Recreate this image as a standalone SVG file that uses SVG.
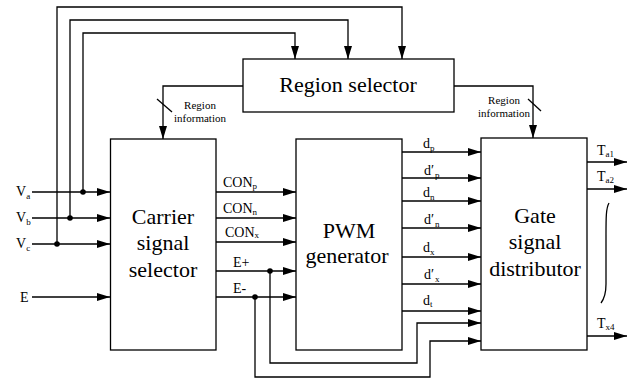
<svg xmlns="http://www.w3.org/2000/svg" width="643" height="383" viewBox="0 0 643 383" font-family="Liberation Serif, Times New Roman, DejaVu Serif, serif">
<style>
.box{fill:#fff;stroke:#000;stroke-width:1.3}
.ln{fill:none;stroke:#000;stroke-width:1.3}
.arr{marker-end:url(#ah)}
.big{font-size:22px;text-anchor:middle}
.lbl{font-size:14px}
.sm{font-size:11px;text-anchor:middle}
.sub{font-size:9px}
</style>
<defs>
<marker id="ah" markerUnits="userSpaceOnUse" markerWidth="14" markerHeight="9" refX="13" refY="4" orient="auto">
<path d="M0,0 L13,4 L0,8 z" fill="#000"/>
</marker>
</defs>
<rect width="643" height="383" fill="#fff"/>
<g id="connectors">
<path class="ln arr" d="M83,192 V33 H295 V59"/>
<path class="ln arr" d="M70,218 V20 H348 V59"/>
<path class="ln arr" d="M57,244 V7 H402 V59"/>
<path class="ln arr" d="M32,192 H110"/>
<path class="ln arr" d="M32,218 H110"/>
<path class="ln arr" d="M32,244 H110"/>
<path class="ln arr" d="M32,297 H110"/>
<circle cx="83" cy="192" r="2.8"/>
<circle cx="70" cy="218" r="2.8"/>
<circle cx="57" cy="244" r="2.8"/>
<path class="ln arr" d="M243,86 H163 V139"/>
<path class="ln" d="M157,99 L172,112"/>
<path class="ln arr" d="M454,86 H533 V138"/>
<path class="ln" d="M528,99 L541,111"/>
<path class="ln arr" d="M216,192 H296"/>
<path class="ln arr" d="M216,218 H296"/>
<path class="ln arr" d="M216,242 H296"/>
<path class="ln arr" d="M216,271 H296"/>
<path class="ln arr" d="M216,297 H296"/>
<circle cx="270" cy="271" r="2.8"/>
<circle cx="255" cy="297" r="2.8"/>
<path class="ln arr" d="M270,271 V363 H417 V323 H481"/>
<path class="ln arr" d="M255,297 V377 H430 V341 H481"/>
<path class="ln arr" d="M402,152 H481"/>
<path class="ln arr" d="M402,178 H481"/>
<path class="ln arr" d="M402,201 H481"/>
<path class="ln arr" d="M402,228 H481"/>
<path class="ln arr" d="M402,257 H481"/>
<path class="ln arr" d="M402,284 H481"/>
<path class="ln arr" d="M402,311 H481"/>
<path class="ln arr" d="M587,162 H627"/>
<path class="ln arr" d="M587,189 H627"/>
<path class="ln arr" d="M587,336 H627"/>
<path class="ln" d="M609,203 C606,208 606,218 606,235 L606,284 C606,295 604,299 601,303"/>
</g>
<g id="labels" font-family="Liberation Serif, serif">
<text class="lbl" x="16" y="196">V<tspan class="sub" dy="3">a</tspan></text>
<text class="lbl" x="16" y="222">V<tspan class="sub" dy="3">b</tspan></text>
<text class="lbl" x="16" y="248">V<tspan class="sub" dy="3">c</tspan></text>
<text class="lbl" x="20" y="302">E</text>
<text class="sm" x="200" y="109">Region</text>
<text class="sm" x="200" y="122">information</text>
<text class="sm" x="504" y="104">Region</text>
<text class="sm" x="504" y="117">information</text>
<text class="lbl" x="223" y="187" font-size="13">CON<tspan class="sub" dy="2">p</tspan></text>
<text class="lbl" x="223" y="213" font-size="13">CON<tspan class="sub" dy="2">n</tspan></text>
<text class="lbl" x="225" y="237" font-size="13">CON<tspan class="sub" dy="1">x</tspan></text>
<text class="lbl" x="233" y="267" font-size="13">E+</text>
<text class="lbl" x="233" y="293" font-size="13">E-</text>
<text class="lbl" x="423" y="148">d<tspan class="sub" dy="3">p</tspan></text>
<text class="lbl" x="424" y="175">d′<tspan class="sub" dx="1" dy="3">p</tspan></text>
<text class="lbl" x="423" y="197">d<tspan class="sub" dy="3">n</tspan></text>
<text class="lbl" x="424" y="224">d′<tspan class="sub" dx="1" dy="3">n</tspan></text>
<text class="lbl" x="423" y="252">d<tspan class="sub" dy="3">x</tspan></text>
<text class="lbl" x="424" y="279">d′<tspan class="sub" dx="1" dy="3">x</tspan></text>
<text class="lbl" x="423" y="305">d<tspan class="sub" dy="2">t</tspan></text>
<text class="lbl" x="597" y="155">T<tspan class="sub" dy="2">a1</tspan></text>
<text class="lbl" x="597" y="181">T<tspan class="sub" dy="2">a2</tspan></text>
<text class="lbl" x="597" y="328">T<tspan class="sub" dy="2">x4</tspan></text>
</g>
<g id="region-selector" font-family="Liberation Serif, serif">
<rect class="box" x="243" y="59" width="211" height="53"/>
<text class="big" x="348" y="92">Region selector</text>
</g>
<g id="carrier-signal-selector" font-family="Liberation Serif, serif">
<rect class="box" x="110.5" y="139" width="105.5" height="211"/>
<text class="big" x="163" y="224">Carrier</text>
<text class="big" x="163" y="250">signal</text>
<text class="big" x="163" y="277">selector</text>
</g>
<g id="pwm-generator" font-family="Liberation Serif, serif">
<rect class="box" x="296" y="139" width="106" height="211"/>
<text class="big" x="349" y="238">PWM</text>
<text class="big" x="347" y="263">generator</text>
</g>
<g id="gate-signal-distributor" font-family="Liberation Serif, serif">
<rect class="box" x="481" y="138" width="106" height="212"/>
<text class="big" x="535" y="223">Gate</text>
<text class="big" x="535" y="249">signal</text>
<text class="big" x="535" y="276">distributor</text>
</g>
</svg>
